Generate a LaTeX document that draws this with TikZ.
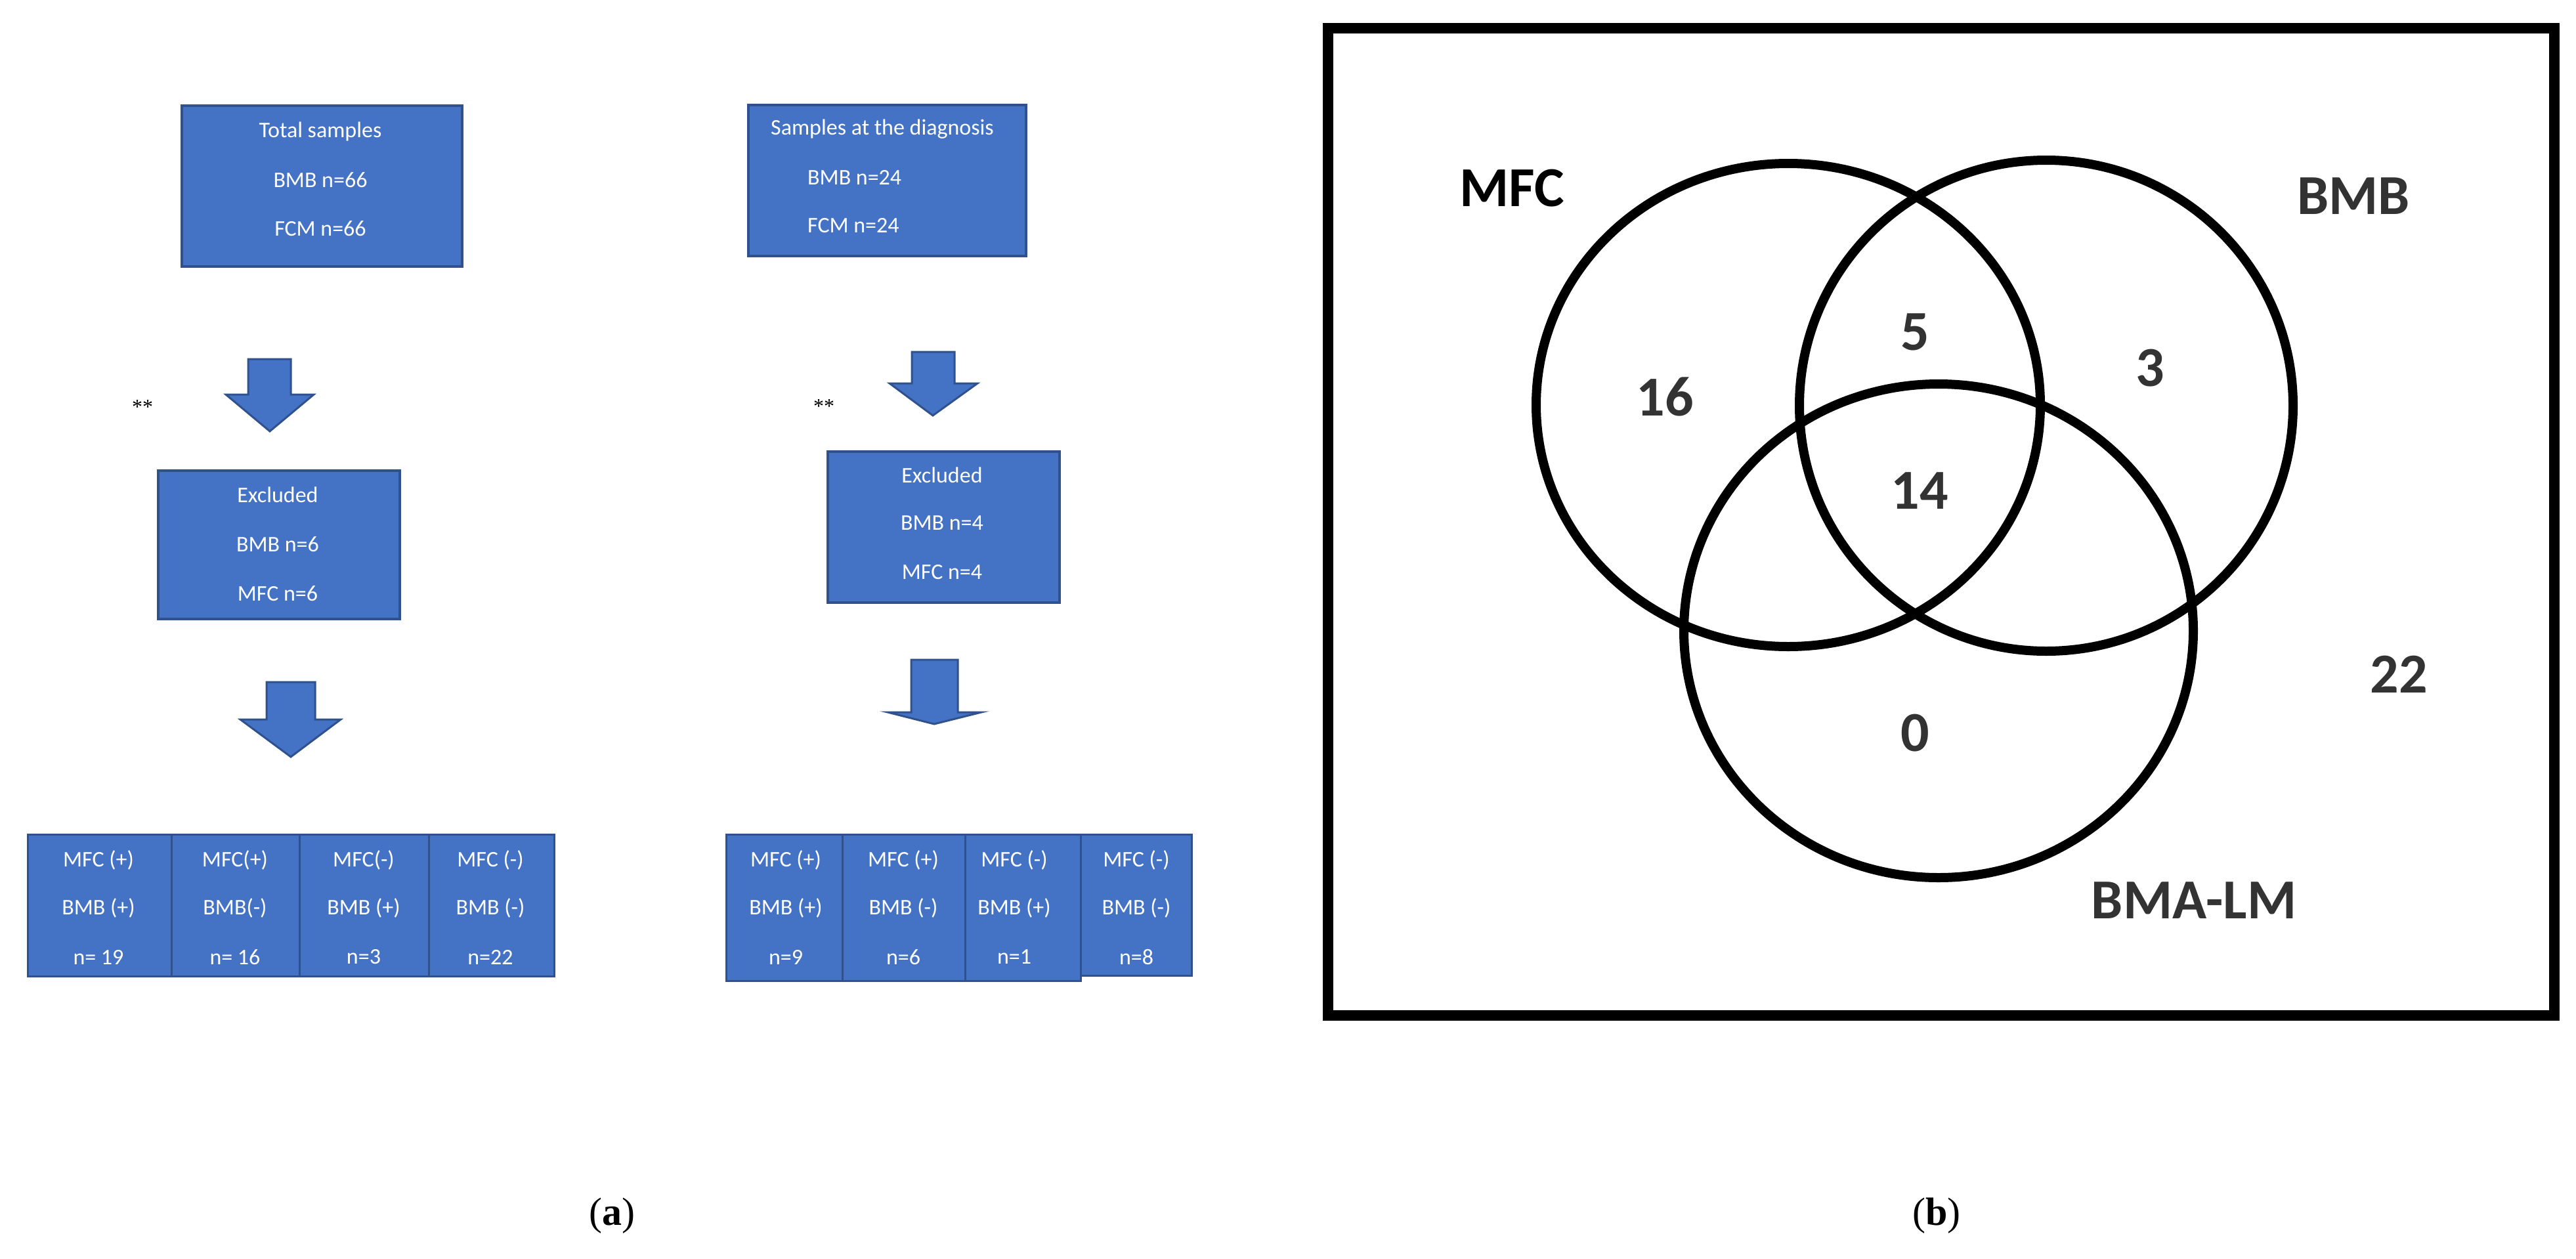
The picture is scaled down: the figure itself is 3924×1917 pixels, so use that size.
\documentclass[tikz,border=0pt]{standalone}
\usepackage{fontspec}
\setmainfont{Carlito}
\newfontfamily\capfont{Liberation Serif}
\definecolor{boxblue}{HTML}{4472C4}
\definecolor{boxedge}{HTML}{2F528F}
\definecolor{vgray}{HTML}{333333}
\begin{document}
\begin{tikzpicture}[x=1pt,y=-1pt,
  box/.style={draw=boxedge,line width=4pt,fill=boxblue,inner sep=0,anchor=north west},
  cell/.style={draw=boxedge,line width=2.5pt,fill=boxblue,inner sep=0,anchor=north west},
  wt/.style={text=white,font=\fontsize{34}{38}\selectfont,inner sep=0},
  arr/.style={draw=boxedge,line width=3pt,fill=boxblue,line join=miter},
  vc/.style={draw=black,line width=14pt},
  vn/.style={text=vgray,font=\bfseries\fontsize{86}{90}\selectfont,inner sep=0},
  star/.style={font=\capfont\fontsize{32}{34}\selectfont,inner sep=0}]
\useasboundingbox (0,0) rectangle (3924,1917);
% ---- left flow
\node[box,minimum width=427pt,minimum height=245pt] (tot) at (275,159) {};
\node[wt] (t1) at (488,200) {Total samples};
\node[wt] (t2) at (488,274) {BMB n=66};
\node[wt] (t3) at (488,348) {FCM n=66};
\draw[arr] (378,547) -- (443,547) -- (443,601) -- (478,601) -- (411,657) -- (344,601) -- (378,601) -- cycle;
\node[star] (s1) at (217,620) {**};
\node[box,minimum width=368pt,minimum height=226pt] (ex1) at (239,715) {};
\node[wt] (e1) at (423,754) {Excluded};
\node[wt] (e2) at (423,829) {BMB n=6};
\node[wt] (e3) at (423,904) {MFC n=6};
\draw[arr] (406,1039) -- (480,1039) -- (480,1096) -- (519,1096) -- (443,1153) -- (366,1096) -- (406,1096) -- cycle;
\node[cell,minimum width=219pt,minimum height=216pt] (c1) at (41,1270) {};
\node[cell,minimum width=195pt,minimum height=216pt] (c2) at (260,1270) {};
\node[cell,minimum width=197pt,minimum height=216pt] (c3) at (455,1270) {};
\node[cell,minimum width=191pt,minimum height=216pt] (c4) at (652,1270) {};
\foreach \n/\x/\a/\b/\c in {c1a/150/MFC (+)/BMB (+)/n= 19, c2a/358/MFC(+)/BMB(-)/n= 16, c3a/554/MFC(-)/BMB (+)/n=3, c4a/747/MFC (-)/BMB (-)/n=22}{
  \node[wt] (\n1) at (\x,1310) {\a};
  \node[wt] (\n2) at (\x,1383) {\b};
  \node[wt] (\n3) at (\x,1458) {\c};}
% ---- middle flow
\node[box,minimum width=423pt,minimum height=230pt] (dia) at (1138,158) {};
\node[wt] (d1) at (1344,197) {Samples at the diagnosis};
\node[wt,anchor=west] (d2) at (1230,270) {BMB n=24};
\node[wt,anchor=west] (d3) at (1230,344) {FCM n=24};
\draw[arr] (1389,536) -- (1454,536) -- (1454,584) -- (1489,584) -- (1421,633) -- (1355,584) -- (1389,584) -- cycle;
\node[star] (s2) at (1255,619) {**};
\node[box,minimum width=353pt,minimum height=230pt] (ex2) at (1259,686) {};
\node[wt] (f1) at (1435,724) {Excluded};
\node[wt] (f2) at (1435,797) {BMB n=4};
\node[wt] (f3) at (1435,872) {MFC n=4};
\draw[arr] (1388,1005) -- (1459,1005) -- (1459,1085) -- (1495,1085) -- (1423,1103) -- (1352,1085) -- (1388,1085) -- cycle;
\node[cell,minimum width=177pt,minimum height=223pt] (g1) at (1105,1270) {};
\node[cell,minimum width=187pt,minimum height=223pt] (g2) at (1282,1270) {};
\node[cell,minimum width=176pt,minimum height=223pt] (g3) at (1469,1270) {};
\node[cell,minimum width=169pt,minimum height=215pt] (g4) at (1645,1270) {};
\foreach \n/\x/\a/\b/\c in {g1a/1197/MFC (+)/BMB (+)/n=9, g2a/1376/MFC (+)/BMB (-)/n=6, g3a/1545/MFC (-)/BMB (+)/n=1, g4a/1731/MFC (-)/BMB (-)/n=8}{
  \node[wt] (\n1) at (\x,1310) {\a};
  \node[wt] (\n2) at (\x,1383) {\b};
  \node[wt] (\n3) at (\x,1458) {\c};}
% ---- Venn
\node[draw=black,line width=16pt,minimum width=1868pt,minimum height=1504pt,inner sep=0,anchor=north west] (frame) at (2015,35) {};
\draw[vc] (2724,617) ellipse [x radius=384,y radius=368];
\draw[vc] (3117,618) ellipse [x radius=376,y radius=374];
\draw[vc] (2953,961) ellipse [x radius=388,y radius=376];
\node[vn,text=black] (lm) at (2303,287) {MFC};
\node[vn] (lb) at (3585,299) {BMB};
\node[vn] (ll) at (3342,1372) {BMA-LM};
\node[vn] (n16) at (2536,604) {16};
\node[vn] (n5) at (2917,506) {5};
\node[vn] (n3) at (3275,561) {3};
\node[vn] (n14) at (2924,748) {14};
\node[vn] (n22) at (3654,1027) {22};
\node[vn] (n0) at (2917,1117) {0};
% ---- captions
\node[font=\capfont\fontsize{60}{62}\selectfont] (ca) at (932,1852) {(\textbf{a})};
\node[font=\capfont\fontsize{60}{62}\selectfont] (cb) at (2950,1852) {(\textbf{b})};
\end{tikzpicture}
\end{document}
